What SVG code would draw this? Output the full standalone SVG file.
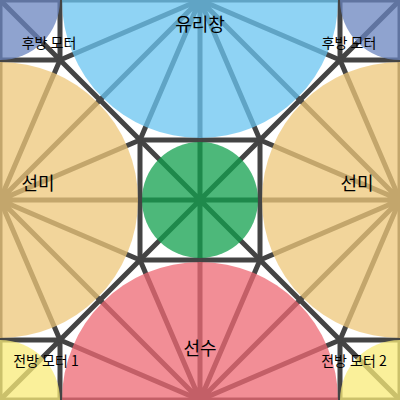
<svg xmlns="http://www.w3.org/2000/svg" width="400" height="400" viewBox="0 0 400 400">
  <style>
    .e { stroke: #444444; stroke-width: 5; fill: none; stroke-linecap: round; }
    .r { opacity: 0.75; stroke: none; }
    .lbl { font-family: "Noto Sans CJK KR", "Noto Sans", sans-serif; fill: #000; text-anchor: middle; }
    .big { font-size: 18px; }
    .small { font-size: 14px; }
  </style>
  <rect x="0" y="0" width="400" height="400" fill="#ffffff"/>
  <g id="connectors">
    <rect class="e" x="0" y="0" width="400" height="400"/>
    <path class="e" d="M60,0 L60,60 M0,60 L60,60 M0,0 L60,60 M340,0 L340,60 M400,60 L340,60 M400,0 L340,60 M60,400 L60,340 M0,340 L60,340 M0,400 L60,340 M340,400 L340,340 M400,340 L340,340 M400,400 L340,340"/>
    <path class="e" d="M60,60 L140,140 M340,60 L260,140 M60,340 L140,260 M340,340 L260,260"/>
    <rect class="e" x="140" y="140" width="120" height="120"/>
    <path class="e" d="M140,140 L260,260 M260,140 L140,260 M200,140 L200,260 M140,200 L260,200"/>
    <path class="e" d="M200,0 L60,60 M200,0 L100,100 M200,0 L140,140 M200,0 L200,140 M200,0 L260,140 M200,0 L300,100 M200,0 L340,60"/>
    <path class="e" d="M0,200 L60,60 M0,200 L100,100 M0,200 L140,140 M0,200 L140,200 M0,200 L140,260 M0,200 L100,300 M0,200 L60,340"/>
    <path class="e" d="M400,200 L340,60 M400,200 L300,100 M400,200 L260,140 M400,200 L260,200 M400,200 L260,260 M400,200 L300,300 M400,200 L340,340"/>
    <path class="e" d="M200,400 L60,340 M200,400 L100,300 M200,400 L140,260 M200,400 L200,260 M200,400 L260,260 M200,400 L300,300 M200,400 L340,340"/>
  </g>
  <g id="windshield">
    <circle class="r" cx="200" cy="0" r="138" fill="#6ac4f0"/>
    <text class="lbl big" x="200" y="31">유리창</text>
  </g>
  <g id="stern-left">
    <circle class="r" cx="0" cy="200" r="138" fill="#eec779"/>
    <text class="lbl big" x="38" y="190">선미</text>
  </g>
  <g id="stern-right">
    <circle class="r" cx="400" cy="200" r="138" fill="#eec779"/>
    <text class="lbl big" x="357" y="190">선미</text>
  </g>
  <g id="bow">
    <circle class="r" cx="200" cy="400" r="138" fill="#ee6873"/>
    <text class="lbl big" x="200" y="355">선수</text>
  </g>
  <g id="center">
    <circle class="r" cx="200" cy="200" r="58" fill="#12a04e"/>
  </g>
  <g id="rear-motor-left">
    <circle class="r" cx="0" cy="0" r="60" fill="#6a84bf"/>
    <text class="lbl small" x="49" y="48">후방 모터</text>
  </g>
  <g id="rear-motor-right">
    <circle class="r" cx="400" cy="0" r="60" fill="#6a84bf"/>
    <text class="lbl small" x="349" y="48">후방 모터</text>
  </g>
  <g id="front-motor-1">
    <circle class="r" cx="0" cy="400" r="60" fill="#f8eb78"/>
    <text class="lbl small" x="46" y="366">전방 모터 1</text>
  </g>
  <g id="front-motor-2">
    <circle class="r" cx="400" cy="400" r="60" fill="#f8eb78"/>
    <text class="lbl small" x="354" y="366">전방 모터 2</text>
  </g>
</svg>
